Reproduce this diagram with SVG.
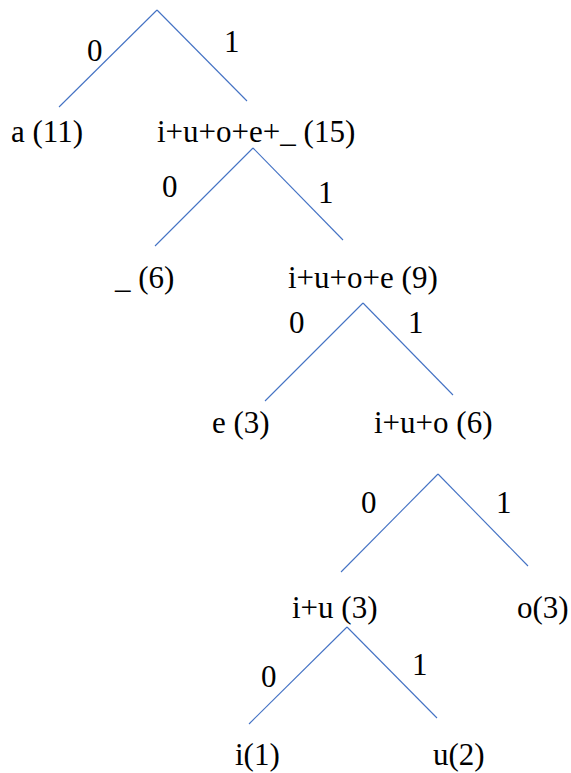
<svg xmlns="http://www.w3.org/2000/svg" width="571" height="773" viewBox="0 0 571 773">
<style>
text{font-family:"Liberation Serif","Times New Roman",serif;font-size:31px;fill:#000}
.e line{stroke:#4472C4;stroke-width:1.1;fill:none}
</style>
<rect width="571" height="773" fill="#fff"/>
<g id="connectors" class="e">
<line x1="157" y1="10" x2="59" y2="107"/>
<line x1="157" y1="10" x2="247" y2="101"/>
<line x1="253" y1="148" x2="155" y2="246"/>
<line x1="253" y1="148" x2="343" y2="240"/>
<line x1="363" y1="303" x2="265" y2="401"/>
<line x1="363" y1="303" x2="453" y2="395"/>
<line x1="438" y1="474" x2="341" y2="572"/>
<line x1="438" y1="474" x2="528" y2="566"/>
<line x1="347" y1="627" x2="249" y2="724"/>
<line x1="347" y1="627" x2="437" y2="718"/>
</g>
<g id="edge-labels">
<text x="87" y="61">0</text>
<text x="224" y="52">1</text>
<text x="162" y="197">0</text>
<text x="318" y="203">1</text>
<text x="289" y="333">0</text>
<text x="408" y="333">1</text>
<text x="361" y="513">0</text>
<text x="496" y="513">1</text>
<text x="261" y="687">0</text>
<text x="412" y="675">1</text>
</g>
<g id="node-a"><text x="11" y="142">a (11)</text></g>
<g id="node-iuoe_"><text x="157" y="142">i+u+o+e+_ (15)</text></g>
<g id="node-_"><text x="115" y="288">_ (6)</text></g>
<g id="node-iuoe"><text x="288" y="288">i+u+o+e (9)</text></g>
<g id="node-e"><text x="212" y="433">e (3)</text></g>
<g id="node-iuo"><text x="374" y="433">i+u+o (6)</text></g>
<g id="node-iu"><text x="292" y="618">i+u (3)</text></g>
<g id="node-o"><text x="517" y="618">o(3)</text></g>
<g id="node-i"><text x="235" y="765">i(1)</text></g>
<g id="node-u"><text x="433" y="765">u(2)</text></g>
</svg>
